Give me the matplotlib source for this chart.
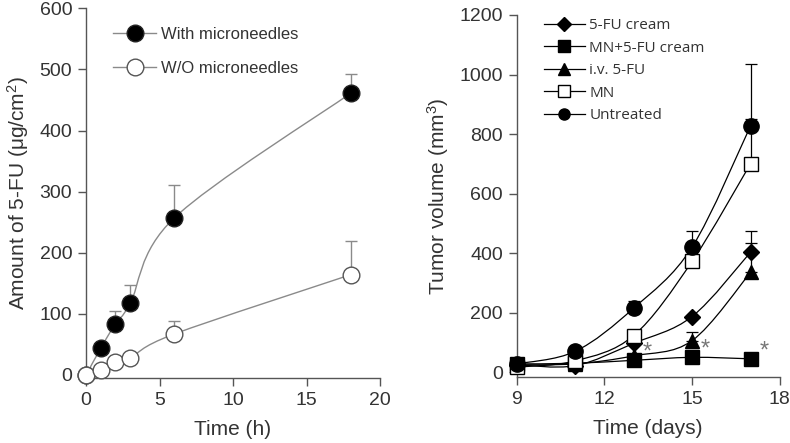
#!/usr/bin/env python3

import numpy as np
import matplotlib
matplotlib.use("Agg")
import matplotlib.pyplot as plt
from matplotlib.path import Path
from matplotlib.patches import PathPatch

# left panel: skin permeation
perm_time = [0, 1, 2, 3, 6, 18]
with_mn = [0, 44, 84, 117, 257, 461]
with_mn_err = [0, 0, 20, 31, 54, 32]
without_mn = [0, 8, 21, 28, 67, 164]
without_mn_err = [0, 0, 0, 0, 22, 56]

# right panel: tumor growth
days = [9, 11, 13, 15, 17]
fu_cream = [25, 22, 97, 187, 403]
fu_cream_err = [0, 0, 0, 0, 72]
mn_fu_cream = [28, 30, 40, 50, 45]
iv_fu = [25, 28, 55, 106, 335]
iv_fu_err = [0, 0, 0, 30, 100]
mn_only = [17, 38, 123, 372, 700]
mn_only_err = [0, 0, 0, 0, 152]
untreated = [28, 70, 215, 420, 827]
untreated_err = [0, 0, 25, 53, 208]
star_days = [13, 15, 17]

plt.rcParams['font.family'] = ['Liberation Sans', 'DejaVu Sans']
plt.rcParams['mathtext.default'] = 'regular'

TXT = "#333333"
AXC = "#555555"


def smooth_line(ax, x, y, color, lw, z=2):
    # Catmull-Rom curve through the data points, drawn as cubic Bezier segments
    x = np.asarray(x, float)
    y = np.asarray(y, float)
    n = len(x)
    verts = [(x[0], y[0])]
    codes = [Path.MOVETO]
    for i in range(n - 1):
        x0, y0 = (x[i - 1], y[i - 1]) if i > 0 else (x[i], y[i])
        x3, y3 = (x[i + 2], y[i + 2]) if i + 2 < n else (x[i + 1], y[i + 1])
        c1 = (x[i] + (x[i + 1] - x0) / 6, y[i] + (y[i + 1] - y0) / 6)
        c2 = (x[i + 1] - (x3 - x[i]) / 6, y[i + 1] - (y3 - y[i]) / 6)
        verts += [c1, c2, (x[i + 1], y[i + 1])]
        codes += [Path.CURVE4] * 3
    ax.add_patch(PathPatch(Path(verts, codes), fill=False, edgecolor=color,
                           lw=lw, zorder=z, clip_on=False))


def style_axes(ax):
    for s in ["top", "right"]:
        ax.spines[s].set_visible(False)
    for s in ["left", "bottom"]:
        ax.spines[s].set_color(AXC)
        ax.spines[s].set_linewidth(1.0)
    ax.tick_params(direction="out", length=6, width=1.0, color=AXC,
                   labelsize=14, labelcolor=TXT, pad=4)


fig = plt.figure(figsize=(7.9, 4.43), dpi=100)

# ---- left panel ----
ax1 = fig.add_axes([0.109, 0.1467, 0.372, 0.8345])
style_axes(ax1)
grey = "#8a8a8a"
smooth_line(ax1, perm_time, with_mn, grey, 1.0)
smooth_line(ax1, perm_time, without_mn, grey, 1.0)
ax1.errorbar(perm_time, with_mn, yerr=[np.zeros(len(with_mn)), with_mn_err],
             fmt="none", ecolor=grey, elinewidth=1.0, capsize=4, capthick=1.0, zorder=2)
ax1.errorbar(perm_time, without_mn, yerr=[np.zeros(len(without_mn)), without_mn_err],
             fmt="none", ecolor=grey, elinewidth=1.0, capsize=4, capthick=1.0, zorder=2)
ax1.plot(perm_time, with_mn, "o", color="black", ms=12, mec="#222222",
         ls="none", zorder=4, clip_on=False)
ax1.plot(perm_time, without_mn, "o", mfc="white", mec="#555555", mew=1.0,
         ms=12, ls="none", zorder=4, clip_on=False)
ax1.set_xlim(0, 20)
ax1.set_ylim(-5, 600)
ax1.set_xticks([0, 5, 10, 15, 20])
ax1.set_yticks(range(0, 601, 100))
ax1.set_xlabel("Time (h)", fontsize=15, color=TXT, labelpad=8)
ax1.set_ylabel("Amount of 5-FU (\u03bcg/cm$^2$)", fontsize=15, color=TXT, labelpad=6)

h1 = ax1.plot([], [], "o-", color=grey, mfc="black", mec="#222222", ms=12, lw=1.0)[0]
h2 = ax1.plot([], [], "o-", color=grey, mfc="white", mec="#555555", ms=12, lw=1.0)[0]
leg1 = ax1.legend([h1, h2], ["With microneedles", "W/O microneedles"],
                  loc="upper left", bbox_to_anchor=(0.04, 0.99), frameon=False,
                  fontsize=12, handlelength=2.6, labelspacing=1.15, handletextpad=0.3)
for t in leg1.get_texts():
    t.set_color(TXT)

# ---- right panel ----
ax2 = fig.add_axes([0.654, 0.1497, 0.333, 0.8165])
style_axes(ax2)
series = [
    (fu_cream, fu_cream_err, "D", "black", 8.5),
    (mn_fu_cream, None, "s", "black", 10),
    (iv_fu, iv_fu_err, "^", "black", 10.5),
    (mn_only, mn_only_err, "s", "white", 10.5),
    (untreated, untreated_err, "o", "black", 11),
]
for vals, err, mk, fc, ms in series:
    smooth_line(ax2, days, vals, "black", 0.9)
    if err is not None:
        ax2.errorbar(days, vals, yerr=[np.zeros(len(vals)), err], fmt="none",
                     ecolor="black", elinewidth=0.9, capsize=4, capthick=0.9, zorder=2)
    ax2.plot(days, vals, mk, mfc=fc, mec="black", mew=1.0, ms=ms,
             ls="none", zorder=4, clip_on=False)

for d in star_days:
    v = mn_fu_cream[days.index(d)]
    ax2.annotate("*", (d, v), xytext=(6.5, 1), textcoords="offset points",
                 fontsize=17, color="#777777", ha="left", va="baseline")

ax2.set_xlim(9, 18)
ax2.set_ylim(-15, 1200)
ax2.set_xticks([9, 12, 15, 18])
ax2.set_yticks(range(0, 1201, 200))
ax2.set_xlabel("Time (days)", fontsize=15, color=TXT, labelpad=8)
ax2.set_ylabel("Tumor volume (mm$^3$)", fontsize=15, color=TXT, labelpad=6)

handles = []
for vals, err, mk, fc, ms in series:
    handles.append(ax2.plot([], [], marker=mk, color="black", mfc=fc, mec="black",
                            ms=8 if mk != "D" else 7, lw=0.9)[0])
leg2 = ax2.legend(handles, ["5-FU cream", "MN+5-FU cream", "i.v. 5-FU", "MN", "Untreated"],
                  loc="upper left", bbox_to_anchor=(0.05, 1.03), frameon=False,
                  prop={"family": "Open Sans", "size": 11}, handlelength=2.7,
                  labelspacing=0.5, handletextpad=0.3)
for t in leg2.get_texts():
    t.set_color(TXT)

plt.savefig("out.png", dpi=100)
